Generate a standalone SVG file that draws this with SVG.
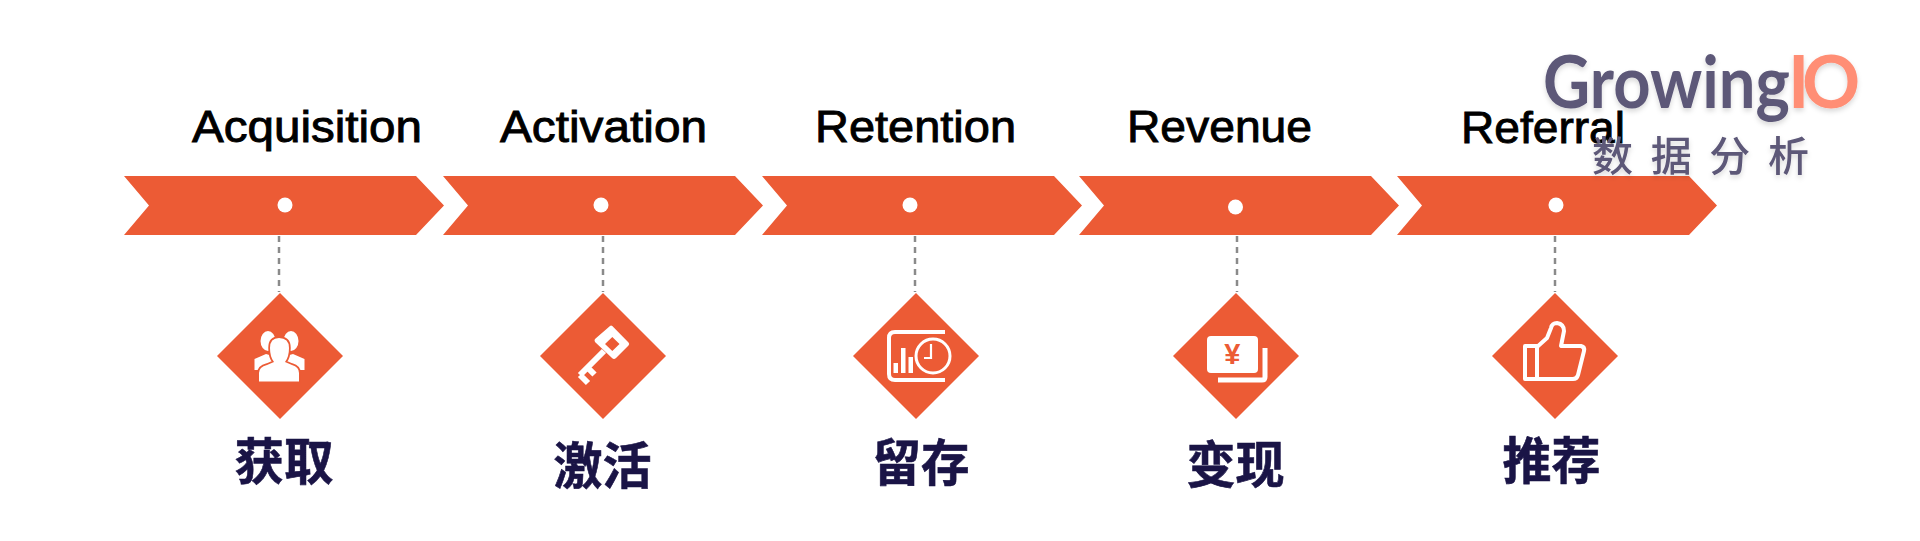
<svg xmlns="http://www.w3.org/2000/svg" width="1920" height="541" viewBox="0 0 1920 541">
<style>
.o{fill:#ec5b35}
.en{font-family:"Liberation Sans",Arial,sans-serif;font-size:44px;fill:#000;stroke:#000;stroke-width:.9px}
.zh{font-family:"Noto Sans CJK SC",sans-serif;font-size:50px;font-weight:700;fill:#1a1446;stroke:#1a1446;stroke-width:.6px}
.d{fill:#fff}
.w{fill:#fff;stroke:none}
.l{fill:none;stroke:#fff;stroke-width:4;stroke-linejoin:round}
.c{stroke:#8a8a8a;stroke-width:2.5;stroke-dasharray:6 5;fill:none}
.logo{font-family:"Lato","Noto Sans",sans-serif;font-weight:700;font-size:72px}
.sub{font-family:"Noto Sans CJK SC",sans-serif;font-weight:500;font-size:41px;fill:#5d5878}
</style>
<defs>
<path id="chev" d="M0 -29.5H292L320 0L292 29.5H0L25 0Z"/>
<path id="dia" d="M0 -63L63 0L0 63L-63 0Z"/>
<filter id="sh" x="-5%" y="-10%" width="110%" height="125%"><feDropShadow dx="0" dy="3" stdDeviation="2.5" flood-color="#000" flood-opacity="0.15"/></filter>
</defs>
<rect width="1920" height="541" fill="#fff"/>
<g id="connectors">
<path class="c" d="M279 236V292"/>
<path class="c" d="M603 236V292"/>
<path class="c" d="M915 236V292"/>
<path class="c" d="M1237 236V292"/>
<path class="c" d="M1555 236V292"/>
</g>
<g id="stage-acquisition">
<text class="en" x="192" y="142" textLength="230" lengthAdjust="spacingAndGlyphs">Acquisition</text>
<use href="#chev" class="o" x="124" y="205.5"/>
<circle class="d" cx="285" cy="205" r="7.5"/>
<g transform="translate(280 356)">
<use href="#dia" class="o"/>
<ellipse class="w" cx="-12" cy="-15" rx="7.500" ry="10"/>
<ellipse class="w" cx="11" cy="-15" rx="7.500" ry="10"/>
<path class="w" d="M-25.500 14V3L-14 -2L-7 0V14ZM24.500 14V3L13 -2L6 0V14Z"/>
<path d="M-21 25.500V17Q-21 11 -13 9L-6 6Q-10 1 -10 -8Q-10 -18 -1 -18Q9 -18 9 -8Q9 1 5 6L12 9Q19 11 19 17V25.500Z" fill="#fff" stroke="#ec5b35" stroke-width="3.500" paint-order="stroke"/>
</g>
<text class="zh" x="234.500" y="480" textLength="99" lengthAdjust="spacingAndGlyphs">获取</text>
</g>
<g id="stage-activation">
<text class="en" x="500" y="142" textLength="207" lengthAdjust="spacingAndGlyphs">Activation</text>
<use href="#chev" class="o" x="443" y="205.5"/>
<circle class="d" cx="601" cy="205" r="7.5"/>
<g transform="translate(603 356)">
<use href="#dia" class="o"/>
<path class="w" d="M9.300 -30L25.500 -13.500Q27 -12 25.500 -10.500L13 2Q11 4 9 2L-8 -14Q-9 -16 -8 -17L7 -30Q8 -31 9.300 -30ZM9.300 -19L2 -12L9.300 -5L16.500 -12Z" fill-rule="evenodd"/>
<path d="M1 -5L-23 19M-23 19L-15 27M-16 11L-8.500 18.500" fill="none" stroke="#fff" stroke-width="6"/>
</g>
<text class="zh" x="553.500" y="484" textLength="98" lengthAdjust="spacingAndGlyphs">激活</text>
</g>
<g id="stage-retention">
<text class="en" x="815" y="142" textLength="201" lengthAdjust="spacingAndGlyphs">Retention</text>
<use href="#chev" class="o" x="762" y="205.5"/>
<circle class="d" cx="910" cy="205" r="7.500"/>
<g transform="translate(916 356)">
<use href="#dia" class="o"/>
<path class="l" d="M29 -24H-21Q-27 -24 -27 -18V18Q-27 24 -21 24H29"/>
<circle cx="17" cy="0" r="17" fill="#ec5b35" stroke="#fff" stroke-width="3"/>
<path d="M15 -12V2H8" fill="none" stroke="#fff" stroke-width="2.200"/>
<path class="w" d="M-22.500 7H-18V17H-22.500ZM-15 -8H-10.500V17H-15ZM-7.500 1H-3V17H-7.500Z"/>
</g>
<text class="zh" x="872.500" y="481" textLength="97" lengthAdjust="spacingAndGlyphs">留存</text>
</g>
<g id="stage-revenue">
<text class="en" x="1127" y="142" textLength="185" lengthAdjust="spacingAndGlyphs">Revenue</text>
<use href="#chev" class="o" x="1079" y="205.5"/>
<circle class="d" cx="1235.500" cy="207" r="7.500"/>
<g transform="translate(1236 356)">
<use href="#dia" class="o"/>
<rect class="w" x="-29" y="-20" width="51" height="37" rx="4"/>
<path d="M29 -8V21Q29 24 26 24H-18" fill="none" stroke="#fff" stroke-width="5"/>
<text x="-3.700" y="8" text-anchor="middle" font-family="Liberation Sans,sans-serif" font-weight="700" font-size="29" fill="#ec5b35">¥</text>
</g>
<text class="zh" x="1186.500" y="483" textLength="98" lengthAdjust="spacingAndGlyphs">变现</text>
</g>
<g id="stage-referral">
<text class="en" x="1461" y="143" textLength="164" lengthAdjust="spacingAndGlyphs">Referral</text>
<use href="#chev" class="o" x="1397" y="205.5"/>
<circle class="d" cx="1556" cy="205" r="7.500"/>
<g transform="translate(1555 356)">
<use href="#dia" class="o"/>
<path class="l" d="M-30 -10H-18V23H-30Z"/>
<path class="l" d="M-18 -9L-8 -18L-4 -28Q-3 -33 2 -33Q9 -32 9 -25L6 -10H26Q30 -9 29 -5L23 19Q22 23 18 23H-18Z"/>
</g>
<text class="zh" x="1502.500" y="479" textLength="98" lengthAdjust="spacingAndGlyphs">推荐</text>
</g>
<g id="logo" filter="url(#sh)">
<text class="logo" x="1543" y="108" textLength="247" lengthAdjust="spacingAndGlyphs" fill="#5d5878">Growing</text>
<text class="logo" x="1788 1802" y="108" fill="#ff8e75">IO</text>
<text class="sub" x="1592" y="171" textLength="217" lengthAdjust="spacing">数据分析</text>
</g>
</svg>
